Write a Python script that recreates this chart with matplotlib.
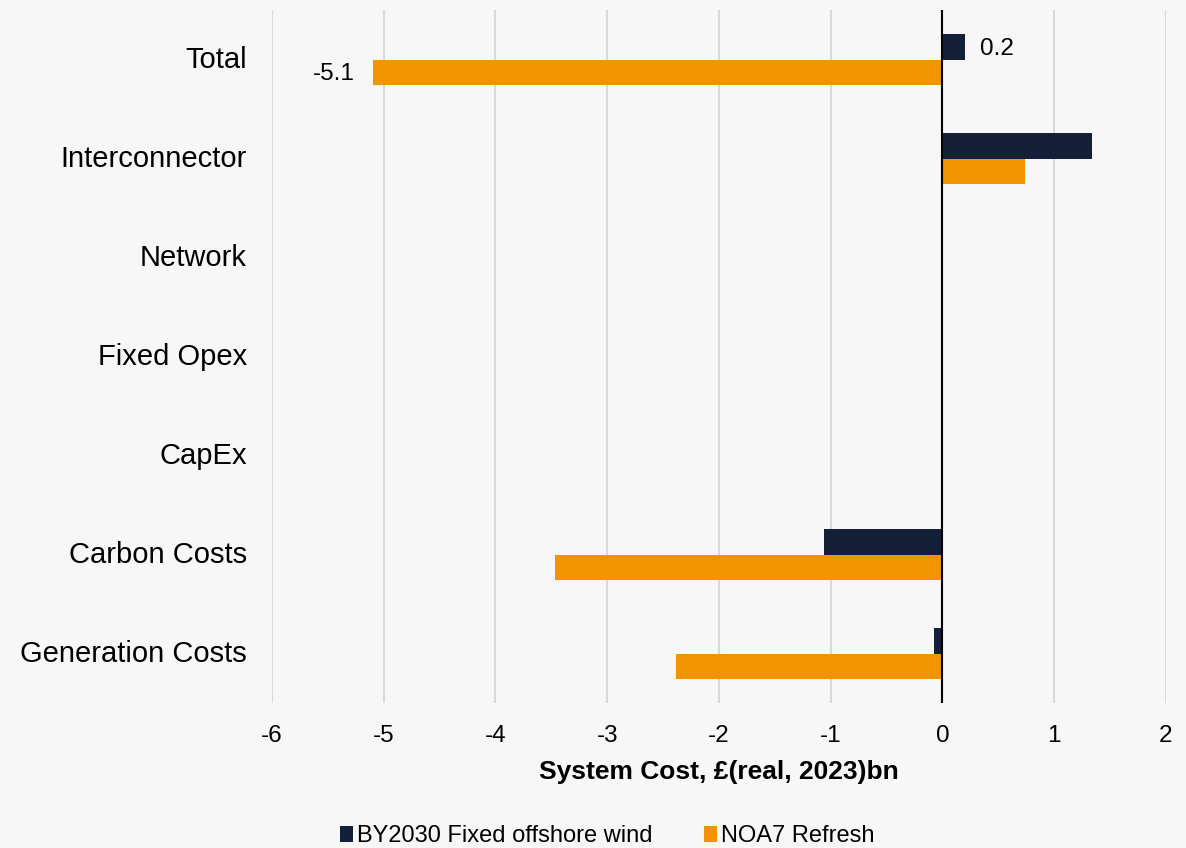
import numpy as np
import matplotlib.pyplot as plt

categories = ["Total", "Interconnector", "Network", "Fixed Opex", "CapEx",
              "Carbon Costs", "Generation Costs"]
by2030 = [0.2, 1.34, 0.0, 0.0, 0.0, -1.06, -0.08]
noa7 = [-5.1, 0.74, 0.0, 0.0, 0.0, -3.47, -2.38]
series_names = ["BY2030 Fixed offshore wind", "NOA7 Refresh"]
xticks = [-6, -5, -4, -3, -2, -1, 0, 1, 2]

navy = "#141f38"
orange = "#f29400"
bg = "#f7f7f7"

plt.rcParams['font.family'] = ['Liberation Sans', 'DejaVu Sans']

fig = plt.figure(figsize=(11.86, 8.48), dpi=100, facecolor=bg)
ax = fig.add_axes([0.2293, 0.171, 0.9831 - 0.2293, 0.988 - 0.171])
ax.set_facecolor(bg)

y = np.arange(len(categories))
h = 0.26
ax.barh(y - h / 2, by2030, height=h, color=navy, label=series_names[0], zorder=3)
ax.barh(y + h / 2, noa7, height=h, color=orange, label=series_names[1], zorder=3)

# value labels on the Total row only
ax.text(by2030[0] + 0.14, y[0] - h / 2 + 0.02, f"{by2030[0]:.1f}", va="center", ha="left",
        fontsize=17.5, color="#000000")
ax.text(noa7[0] - 0.16, y[0] + h / 2 + 0.01, f"{noa7[0]:.1f}", va="center", ha="right",
        fontsize=17.5, color="#000000")

ax.set_ylim(len(categories) - 0.5, -0.5)
ax.set_xlim(-6, 2)
ax.set_xticks(xticks)
ax.set_xticklabels([str(t) for t in xticks], fontsize=17.5)
ax.set_yticks(y)
ax.set_yticklabels(categories, fontsize=21, va="center")
ax.tick_params(length=0)
ax.tick_params(axis="x", pad=16)
ax.tick_params(axis="y", pad=18)

ax.grid(axis="x", color="#d9d9d9", linewidth=1.5, zorder=0)
ax.axvline(0, color="black", linewidth=1.5, zorder=4)
for s in ax.spines.values():
    s.set_visible(False)

ax.set_xlabel("System Cost, £(real, 2023)bn", fontsize=19, fontweight="bold",
              labelpad=9)

handles, labels = ax.get_legend_handles_labels()
fig.legend(handles, labels, loc="center", bbox_to_anchor=(0.512, 0.014), ncol=2,
           frameon=False, fontsize=17, handlelength=0.55, handleheight=0.7,
           handletextpad=0.15, columnspacing=2.2)

fig.savefig("out.png", dpi=100, facecolor=bg)
